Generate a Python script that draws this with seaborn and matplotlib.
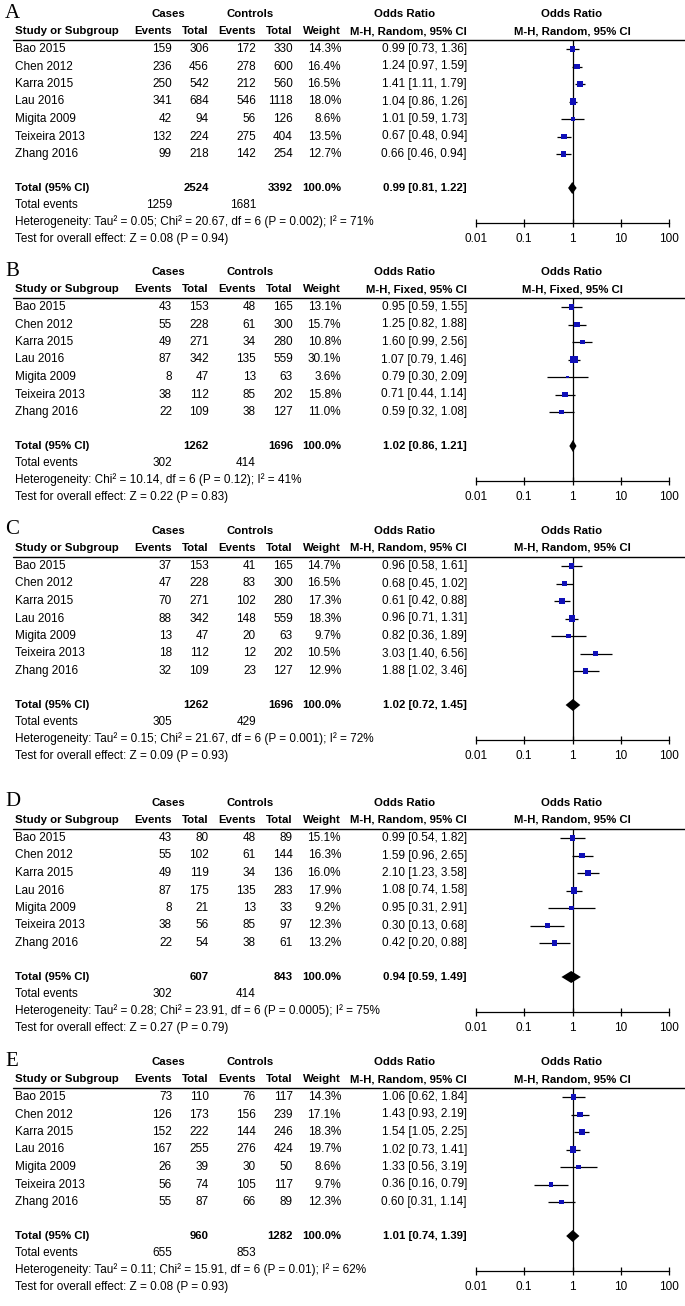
import matplotlib
matplotlib.use('Agg')
import matplotlib.pyplot as plt
import pandas as pd
import seaborn as sns

# ---- data -------------------------------------------------------------
studies = ['Bao 2015', 'Chen 2012', 'Karra 2015', 'Lau 2016',
           'Migita 2009', 'Teixeira 2013', 'Zhang 2016']
panel_letters = ['A', 'B', 'C', 'D', 'E']
methods = ['M-H, Random, 95% CI', 'M-H, Fixed, 95% CI', 'M-H, Random, 95% CI',
           'M-H, Random, 95% CI', 'M-H, Random, 95% CI']

a_case_ev = [159, 236, 250, 341, 42, 132, 99]
a_case_n = [306, 456, 542, 684, 94, 224, 218]
a_ctrl_ev = [172, 278, 212, 546, 56, 275, 142]
a_ctrl_n = [330, 600, 560, 1118, 126, 404, 254]
a_weight = [14.3, 16.4, 16.5, 18.0, 8.6, 13.5, 12.7]
a_or = [0.99, 1.24, 1.41, 1.04, 1.01, 0.67, 0.66]
a_lo = [0.73, 0.97, 1.11, 0.86, 0.59, 0.48, 0.46]
a_hi = [1.36, 1.59, 1.79, 1.26, 1.73, 0.94, 0.94]

b_case_ev = [43, 55, 49, 87, 8, 38, 22]
b_case_n = [153, 228, 271, 342, 47, 112, 109]
b_ctrl_ev = [48, 61, 34, 135, 13, 85, 38]
b_ctrl_n = [165, 300, 280, 559, 63, 202, 127]
b_weight = [13.1, 15.7, 10.8, 30.1, 3.6, 15.8, 11.0]
b_or = [0.95, 1.25, 1.60, 1.07, 0.79, 0.71, 0.59]
b_lo = [0.59, 0.82, 0.99, 0.79, 0.30, 0.44, 0.32]
b_hi = [1.55, 1.88, 2.56, 1.46, 2.09, 1.14, 1.08]

c_case_ev = [37, 47, 70, 88, 13, 18, 32]
c_case_n = [153, 228, 271, 342, 47, 112, 109]
c_ctrl_ev = [41, 83, 102, 148, 20, 12, 23]
c_ctrl_n = [165, 300, 280, 559, 63, 202, 127]
c_weight = [14.7, 16.5, 17.3, 18.3, 9.7, 10.5, 12.9]
c_or = [0.96, 0.68, 0.61, 0.96, 0.82, 3.03, 1.88]
c_lo = [0.58, 0.45, 0.42, 0.71, 0.36, 1.40, 1.02]
c_hi = [1.61, 1.02, 0.88, 1.31, 1.89, 6.56, 3.46]

d_case_ev = [43, 55, 49, 87, 8, 38, 22]
d_case_n = [80, 102, 119, 175, 21, 56, 54]
d_ctrl_ev = [48, 61, 34, 135, 13, 85, 38]
d_ctrl_n = [89, 144, 136, 283, 33, 97, 61]
d_weight = [15.1, 16.3, 16.0, 17.9, 9.2, 12.3, 13.2]
d_or = [0.99, 1.59, 2.10, 1.08, 0.95, 0.30, 0.42]
d_lo = [0.54, 0.96, 1.23, 0.74, 0.31, 0.13, 0.20]
d_hi = [1.82, 2.65, 3.58, 1.58, 2.91, 0.68, 0.88]

e_case_ev = [73, 126, 152, 167, 26, 56, 55]
e_case_n = [110, 173, 222, 255, 39, 74, 87]
e_ctrl_ev = [76, 156, 144, 276, 30, 105, 66]
e_ctrl_n = [117, 239, 246, 424, 50, 117, 89]
e_weight = [14.3, 17.1, 18.3, 19.7, 8.6, 9.7, 12.3]
e_or = [1.06, 1.43, 1.54, 1.02, 1.33, 0.36, 0.60]
e_lo = [0.62, 0.93, 1.05, 0.73, 0.56, 0.16, 0.31]
e_hi = [1.84, 2.19, 2.25, 1.41, 3.19, 0.79, 1.14]

# totals: cases total, controls total, pooled OR, lower, upper
total_case_n = [2524, 1262, 1262, 607, 960]
total_ctrl_n = [3392, 1696, 1696, 843, 1282]
total_or = [0.99, 1.02, 1.02, 0.94, 1.01]
total_lo = [0.81, 0.86, 0.72, 0.59, 0.74]
total_hi = [1.22, 1.21, 1.45, 1.49, 1.39]
total_case_ev = [1259, 302, 305, 302, 655]
total_ctrl_ev = [1681, 414, 429, 414, 853]

heterogeneity = [
    'Heterogeneity: Tau² = 0.05; Chi² = 20.67, df = 6 (P = 0.002); I² = 71%',
    'Heterogeneity: Chi² = 10.14, df = 6 (P = 0.12); I² = 41%',
    'Heterogeneity: Tau² = 0.15; Chi² = 21.67, df = 6 (P = 0.001); I² = 72%',
    'Heterogeneity: Tau² = 0.28; Chi² = 23.91, df = 6 (P = 0.0005); I² = 75%',
    'Heterogeneity: Tau² = 0.11; Chi² = 15.91, df = 6 (P = 0.01); I² = 62%',
]
overall = [
    'Test for overall effect: Z = 0.08 (P = 0.94)',
    'Test for overall effect: Z = 0.22 (P = 0.83)',
    'Test for overall effect: Z = 0.09 (P = 0.93)',
    'Test for overall effect: Z = 0.27 (P = 0.79)',
    'Test for overall effect: Z = 0.08 (P = 0.93)',
]

axis_ticks = [0.01, 0.1, 1, 10, 100]
axis_labels = ['0.01', '0.1', '1', '10', '100']

# ---- layout (pixels) --------------------------------------------------
W, H = 685, 1306
PANEL_TOP = [0, 258, 517, 789, 1048]
HEAD1, HEAD2, LINE = 14, 31, 40
ROW0, STEP = 49, 17.5
TOTAL, EVENTS, HET, TEST, AXIS = 188, 205, 222, 239, 223
NAME_X, CE_X, CN_X, KE_X, KN_X, WT_X, OR_X = 15, 172, 209, 256, 293, 341, 467
FS = 8.5
FS_HEAD = 8.2
BLUE = '#1010b8'

sns.set_style('white')
plt.rcParams['font.family'] = ['Liberation Sans', 'DejaVu Sans']
plt.rcParams['text.color'] = 'black'
plt.rcParams['xtick.color'] = 'black'
plt.rcParams['xtick.labelcolor'] = 'black'

fig = plt.figure(figsize=(W / 100, H / 100), dpi=100)
ax = fig.add_axes([0, 0, 1, 1])
ax.set_xlim(0, W)
ax.set_ylim(H, 0)
ax.axis('off')


def txt(x, y, s, ha='right', bold=False, size=FS, **kw):
    ax.text(x, y, s, ha=ha, va='center', fontsize=size,
            fontweight='bold' if bold else 'normal', **kw)


def head(x, y, s, ha='right'):
    txt(x, y, s, ha=ha, bold=True, size=FS_HEAD)


def draw_panel(i, case_ev, case_n, ctrl_ev, ctrl_n, weight, or_, lo, hi):
    top = PANEL_TOP[i]
    df = pd.DataFrame({'study': studies, 'case_ev': case_ev, 'case_n': case_n,
                       'ctrl_ev': ctrl_ev, 'ctrl_n': ctrl_n, 'weight': weight,
                       'or': or_, 'lo': lo, 'hi': hi})
    df['y'] = [ROW0 + k * STEP for k in range(len(df))]

    # headers
    ax.text(5, top + 13, panel_letters[i], ha='left', va='center',
            fontsize=15, family=['Liberation Serif', 'DejaVu Serif'])
    head(168, top + HEAD1, 'Cases', ha='center')
    head(250, top + HEAD1, 'Controls', ha='center')
    head(405, top + HEAD1, 'Odds Ratio', ha='center')
    head(572, top + HEAD1, 'Odds Ratio', ha='center')
    head(NAME_X, top + HEAD2, 'Study or Subgroup', ha='left')
    head(CE_X, top + HEAD2, 'Events')
    head(CN_X, top + HEAD2, 'Total')
    head(KE_X, top + HEAD2, 'Events')
    head(KN_X, top + HEAD2, 'Total')
    head(WT_X, top + HEAD2, 'Weight')
    head(OR_X, top + HEAD2, methods[i])
    head(572, top + HEAD2, methods[i], ha='center')
    ax.plot([13, W], [top + LINE, top + LINE], color='black', lw=1)

    # study rows
    for _, r in df.iterrows():
        y = top + r['y']
        txt(NAME_X, y, r['study'], ha='left')
        txt(CE_X, y, f"{r['case_ev']:.0f}")
        txt(CN_X, y, f"{r['case_n']:.0f}")
        txt(KE_X, y, f"{r['ctrl_ev']:.0f}")
        txt(KN_X, y, f"{r['ctrl_n']:.0f}")
        txt(WT_X, y, f"{r['weight']:.1f}%")
        txt(OR_X, y, f"{r['or']:.2f} [{r['lo']:.2f}, {r['hi']:.2f}]")

    # totals
    head(NAME_X, top + TOTAL, 'Total (95% CI)', ha='left')
    head(CN_X, top + TOTAL, f'{total_case_n[i]}')
    head(KN_X, top + TOTAL, f'{total_ctrl_n[i]}')
    head(WT_X, top + TOTAL, '100.0%')
    head(OR_X, top + TOTAL,
         f'{total_or[i]:.2f} [{total_lo[i]:.2f}, {total_hi[i]:.2f}]')
    txt(NAME_X, top + EVENTS, 'Total events', ha='left')
    txt(CE_X, top + EVENTS, f'{total_case_ev[i]}')
    txt(KE_X, top + EVENTS, f'{total_ctrl_ev[i]}')
    txt(NAME_X, top + HET, heterogeneity[i], ha='left')
    txt(NAME_X, top + TEST, overall[i], ha='left')

    # forest plot
    fax = fig.add_axes([476 / W, 1 - (top + AXIS) / H, 193 / W, (AXIS - LINE) / H])
    fax.set_xscale('log')
    fax.hlines(df['y'], df['lo'], df['hi'], color='black', lw=0.9, zorder=2)
    sns.scatterplot(data=df, x='or', y='y', size='weight', sizes=(0, 105),
                    size_norm=(0, 100), marker='s', color=BLUE, edgecolor='none',
                    linewidth=0, legend=False, ax=fax, zorder=3)
    fax.axvline(1, color='black', lw=0.9, zorder=1)
    fax.fill([total_lo[i], total_or[i], total_hi[i], total_or[i]],
             [TOTAL, TOTAL - 6, TOTAL, TOTAL + 6], color='black', lw=0, zorder=3)
    fax.set_xlim(0.01, 100)
    fax.set_ylim(AXIS, LINE)
    fax.set_xticks(axis_ticks)
    fax.set_xticklabels(axis_labels)
    fax.minorticks_off()
    fax.set_yticks([])
    fax.set_xlabel('')
    fax.set_ylabel('')
    fax.patch.set_alpha(0)
    for side in ['top', 'left', 'right']:
        fax.spines[side].set_visible(False)
    fax.spines['bottom'].set_linewidth(0.9)
    fax.spines['bottom'].set_color('black')
    fax.tick_params(axis='x', direction='inout', length=6, width=0.9,
                    pad=4, labelsize=FS, bottom=True, color='black',
                    labelcolor='black')


draw_panel(0, a_case_ev, a_case_n, a_ctrl_ev, a_ctrl_n, a_weight, a_or, a_lo, a_hi)
draw_panel(1, b_case_ev, b_case_n, b_ctrl_ev, b_ctrl_n, b_weight, b_or, b_lo, b_hi)
draw_panel(2, c_case_ev, c_case_n, c_ctrl_ev, c_ctrl_n, c_weight, c_or, c_lo, c_hi)
draw_panel(3, d_case_ev, d_case_n, d_ctrl_ev, d_ctrl_n, d_weight, d_or, d_lo, d_hi)
draw_panel(4, e_case_ev, e_case_n, e_ctrl_ev, e_ctrl_n, e_weight, e_or, e_lo, e_hi)

fig.savefig('out.png', dpi=100)
plt.close(fig)
